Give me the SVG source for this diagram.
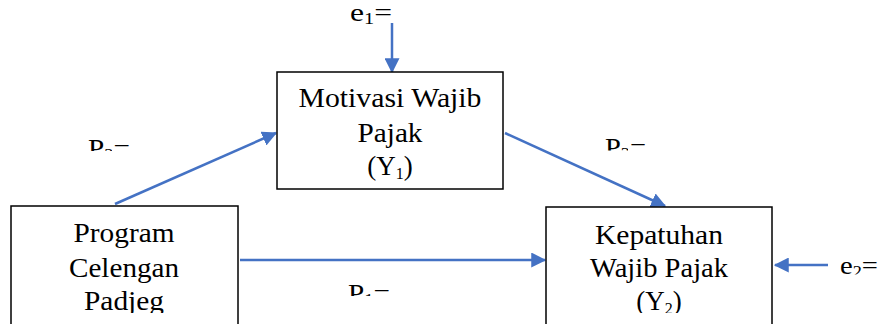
<svg xmlns="http://www.w3.org/2000/svg" width="880" height="324" viewBox="0 0 880 324">
<style>
.box{fill:#fff;stroke:#000;stroke-width:1.5}
.t{font-family:"Liberation Serif","Times New Roman",serif;font-size:27px;fill:#000;text-anchor:middle}
.l{font-family:"Liberation Serif","Times New Roman",serif;font-size:25px;fill:#000}
.c{stroke:#4472C4;stroke-width:2.5;fill:none;marker-end:url(#ah)}
.sub{font-size:16px}
</style>
<defs>
<marker id="ah" markerWidth="6" markerHeight="6" refX="5.5" refY="3" orient="auto" markerUnits="strokeWidth" viewBox="0 0 6 6">
<path d="M0,0 L6,3 L0,6 Z" fill="#4472C4"/>
</marker>
<clipPath id="cp1"><rect x="0" y="0" width="880" height="313"/></clipPath>
<clipPath id="cpP2"><path d="M70,120 H160 V149.5 H112 V151 H70 Z"/></clipPath>
<clipPath id="cpP3"><path d="M590,120 H680 V148.5 H628 V150.5 H590 Z"/></clipPath>
<clipPath id="cpP1"><path d="M330,270 H420 V294.5 H372 V296 H330 Z"/></clipPath>
<clipPath id="cpE2"><rect x="830" y="240" width="50" height="34.5"/></clipPath>
</defs>
<g id="connectors">
<line class="c" x1="392" y1="23" x2="392" y2="72"/>
<line class="c" x1="115" y1="204" x2="276" y2="133"/>
<line class="c" x1="505" y1="133" x2="665" y2="206"/>
<line class="c" x1="240" y1="260" x2="545" y2="260"/>
<line class="c" x1="828" y1="265" x2="775" y2="265"/>
</g>
<g id="motivasi">
<rect class="box" x="277" y="72" width="226" height="117"/>
<text class="t" x="390" y="107" textLength="183" lengthAdjust="spacingAndGlyphs">Motivasi Wajib</text>
<text class="t" x="390" y="142" textLength="65" lengthAdjust="spacingAndGlyphs">Pajak</text>
<text class="t" x="390" y="175">(Y<tspan class="sub" dy="4">1</tspan><tspan dy="-4">)</tspan></text>
</g>
<g id="program">
<rect class="box" x="11" y="206" width="227" height="130"/>
<g clip-path="url(#cp1)">
<text class="t" x="124" y="242" textLength="101" lengthAdjust="spacingAndGlyphs">Program</text>
<text class="t" x="124" y="277" textLength="110" lengthAdjust="spacingAndGlyphs">Celengan</text>
<text class="t" x="124" y="310" textLength="80" lengthAdjust="spacingAndGlyphs">Padjeg</text>
</g>
</g>
<g id="kepatuhan">
<rect class="box" x="546" y="207" width="226" height="130"/>
<g clip-path="url(#cp1)">
<text class="t" x="659" y="244" textLength="128" lengthAdjust="spacingAndGlyphs">Kepatuhan</text>
<text class="t" x="659" y="277" textLength="138" lengthAdjust="spacingAndGlyphs">Wajib Pajak</text>
<text class="t" x="659" y="310">(Y<tspan class="sub" dy="4">2</tspan><tspan dy="-4">)</tspan></text>
</g>
</g>
<g id="labels">
<text class="l" x="350" y="21" textLength="42" lengthAdjust="spacingAndGlyphs">e<tspan class="sub" dy="3">1</tspan><tspan dy="-3">=</tspan></text>
<text class="l" x="840" y="274" textLength="38" lengthAdjust="spacingAndGlyphs" clip-path="url(#cpE2)">e<tspan class="sub" dy="3">2</tspan><tspan dy="-3">=</tspan></text>
<text class="l" x="88" y="156.5" textLength="42" lengthAdjust="spacingAndGlyphs" clip-path="url(#cpP2)">P<tspan class="sub" dy="3">2</tspan><tspan dy="-3">=</tspan></text>
<text class="l" x="605" y="155.5" textLength="41" lengthAdjust="spacingAndGlyphs" clip-path="url(#cpP3)">P<tspan class="sub" dy="3">3</tspan><tspan dy="-3">=</tspan></text>
<text class="l" x="348" y="301.5" textLength="42" lengthAdjust="spacingAndGlyphs" clip-path="url(#cpP1)">P<tspan class="sub" dy="3">1</tspan><tspan dy="-3">=</tspan></text>
</g>
</svg>
